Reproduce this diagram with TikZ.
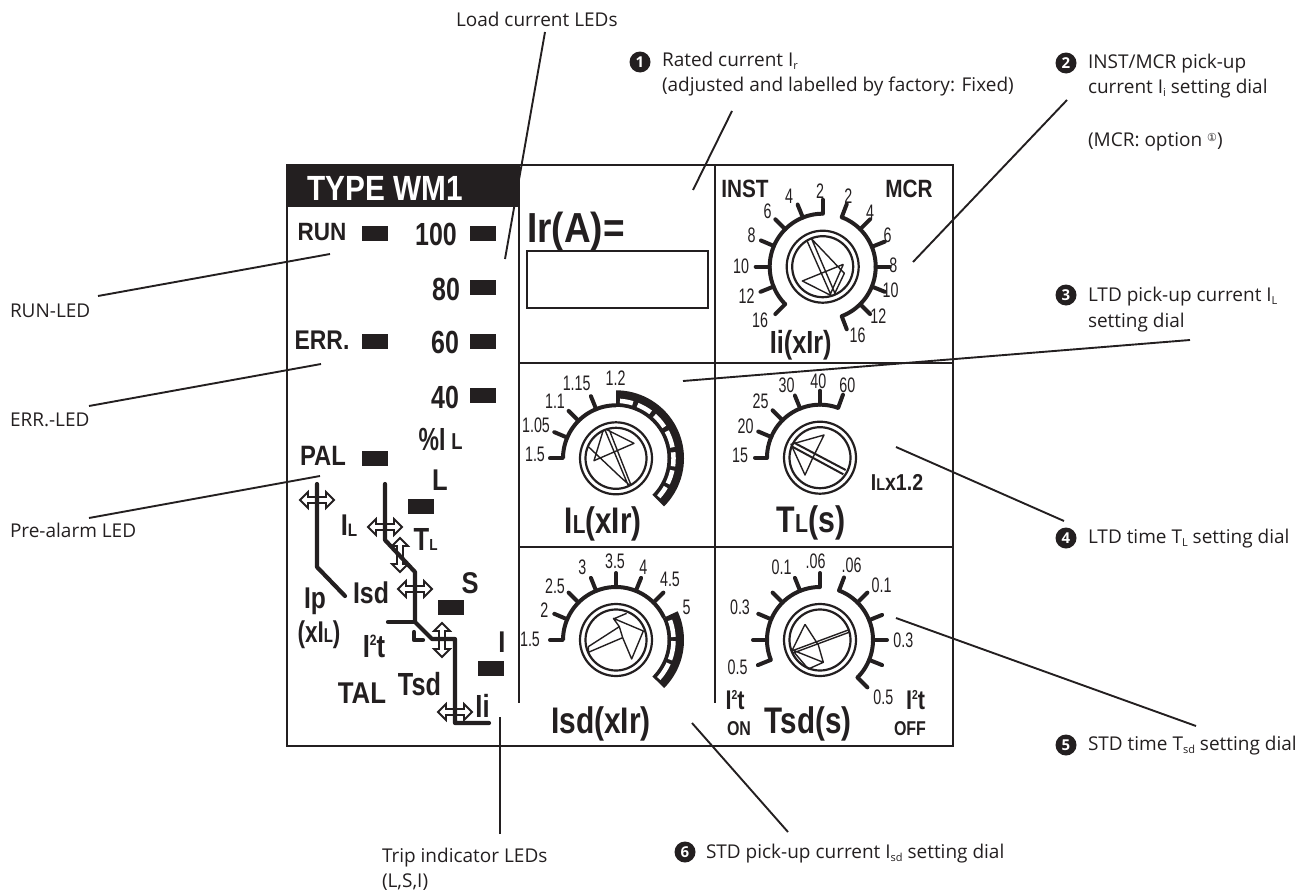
\documentclass[tikz,border=0pt]{standalone}
\usepackage{fontspec}
\setmainfont{Open Sans}
\newfontfamily\arl{Liberation Sans}
\newfontfamily\djv{DejaVu Sans}
\definecolor{ink}{HTML}{231F20}
\tikzset{
  pn/.style={anchor=base,inner sep=0pt,outer sep=0pt,text=ink},
  num/.style={anchor=center,inner sep=0pt,outer sep=0pt,text=ink,font=\arl\fontsize{21}{21}\selectfont},
  ann/.style={anchor=base west,inner sep=0pt,outer sep=0pt,text=ink,font=\fontsize{19}{19}\selectfont},
  bullet/.style={circle,fill=ink,text=white,inner sep=0pt,minimum size=21pt,font=\fontsize{15}{15}\selectfont\bfseries},
  leader/.style={draw=ink,line width=1.9pt},
  panelline/.style={draw=ink,line width=2pt},
  ledbox/.style={fill=ink,draw=none,inner sep=0pt,minimum width=26pt,minimum height=15pt},
  traceline/.style={draw=ink,line width=4.2pt,line cap=round,line join=round},
  dialarc/.style={draw=ink,line width=4pt,line join=round},
  dialtick/.style={draw=ink,line width=4pt,line cap=round},
  knobring/.style={draw=ink,line width=2.2pt},
  knobline/.style={draw=ink,line width=1.4pt,line join=round},
  dblarrow/.style={draw=ink,line width=1.8pt,line join=miter}
}
\newcommand\bl[6]{\node[pn] (#1) at (#2,#3) {\scalebox{#5}[1]{\arl\bfseries\fontsize{#4}{#4}\selectfont #6}};}
\newcommand\sm[2]{{\fontsize{#1}{#1}\selectfont #2}}
\newcommand\subt[1]{\raisebox{-3pt}{\fontsize{11}{11}\selectfont #1}}
\newcommand\darc[6]{\draw[#6] plot[variable=\t,domain=#4:#5,samples=50,smooth] ({#1+#3*cos(\t)},{#2-#3*sin(\t)});}
\newcommand\dticks[3]{\foreach \a in {#3} \draw[dialtick] ({#1+53*cos(\a)},{#2-53*sin(\a)}) -- ({#1+67*cos(\a)},{#2-67*sin(\a)});}
\newcommand\knob[2]{\draw[knobring] (#1,#2) circle[radius=36pt]; \draw[knobring] (#1,#2) circle[radius=30.5pt];}
\newcommand\darrow[3]{\draw[dblarrow,shift={(#1,#2)},rotate=#3] (-17,0)--(-9,-8)--(-9,-3)--(9,-3)--(9,-8)--(17,0)--(9,8)--(9,3)--(-9,3)--(-9,8)--cycle;}
\begin{document}
\begin{tikzpicture}[x=1pt,y=-1pt]
\useasboundingbox (0,0) rectangle (1311,894);
% ---------- panel
\fill[ink] (287,165) rectangle (520,207);
\draw[panelline] (287,165) rectangle (953,746);
\draw[panelline] (519,207) -- (519,703);
\draw[panelline] (715,165) -- (715,703);
\draw[panelline] (519,363) -- (953,363);
\draw[panelline] (519,547) -- (953,547);
\node[pn,text=white] (title) at (385,200) {\scalebox{.85}[1]{\arl\bfseries\fontsize{35}{35}\selectfont TYPE WM1}};
% LEDs
\foreach \n/\x/\y in {run/375/233.5,errl/375/341.5,pal/375/458.5,p100/483/233.5,p80/483/287.5,p60/483/341.5,p40/483/395.5,ll/421/506.5,ls/451/607.5,li/491/668.5}
  \node[ledbox] (led\n) at (\x,\y) {};
\bl{trun}{322}{240}{25}{.9}{RUN}
\bl{t100}{436}{245}{32}{.78}{100}
\bl{t80}{446}{300}{32}{.78}{80}
\bl{t60}{445}{353}{32}{.78}{60}
\bl{t40}{445}{408}{32}{.78}{40}
\bl{terr}{322}{349}{27}{.85}{ERR.}
\bl{tpal}{323}{465}{28}{.85}{PAL}
\bl{tpi}{432}{450}{32}{.72}{\%I}
\bl{tpl}{457}{449}{23}{.8}{L}
\bl{tl}{440}{490}{30}{.85}{L}
\bl{til}{344.5}{535}{30}{.85}{I}
\bl{till}{352.5}{536}{18}{.85}{L}
\bl{ttl}{421.5}{550}{32}{.8}{T}
\bl{ttll}{433.5}{550}{16}{.85}{L}
\bl{ts}{470}{593}{30}{.85}{S}
\bl{tisd}{371}{603}{30}{.83}{Isd}
\bl{tip}{315}{608}{30}{.82}{Ip}
\bl{txi}{319}{642}{30}{.75}{(xI\sm{20}{L})}
\bl{tit}{374}{657}{32}{.8}{I\raisebox{12pt}{\sm{15}{2}}t}
\bl{ttal}{362}{703}{30}{.86}{TAL}
\bl{ttsd}{419.5}{695}{32}{.79}{Tsd}
\bl{tbi}{502}{652}{30}{.85}{I}
\bl{tii}{482.5}{717}{32}{.8}{Ii}
% curves with double arrows
\darrow{317}{500}{0}
\darrow{385}{527}{0}
\darrow{400}{555}{90}
\darrow{415}{589}{0}
\darrow{442}{640}{90}
\darrow{455}{712}{0}
\coordinate (ca1) at (317,484); \coordinate (ca2) at (317,567); \coordinate (ca3) at (345,596);
\draw[traceline] (ca1) -- (ca2) -- (ca3);
\coordinate (cb1) at (385,484); \coordinate (cb2) at (385,540); \coordinate (cb3) at (415,572); \coordinate (cb4) at (415,622); \coordinate (cb5) at (432,639); \coordinate (cb6) at (455,639); \coordinate (cb7) at (455,723); \coordinate (cb8) at (489,723); \coordinate (cb9) at (388,622);
\draw[traceline] (cb1) -- (cb2) -- (cb3) -- (cb4) -- (cb5) -- (cb6) -- (cb7) -- (cb8);
\draw[traceline] (cb9) -- (cb4);
\coordinate (cc1) at (414,632); \coordinate (cc2) at (414,640); \coordinate (cc3) at (423,640);
\draw[traceline] (cc1) -- (cc2) -- (cc3);
% Ir box
\bl{tira}{576}{242}{42}{.88}{Ir(A)=}
\node[draw=ink,line width=1.8pt,minimum width=181pt,minimum height=57pt,inner sep=0pt] (irbox) at (617.5,279.5) {};
% ---------- Dial 1
\darc{822.7}{266.7}{53}{90}{225}{dialarc}
\darc{822.7}{266.7}{53}{-69}{69}{dialarc}
\dticks{822.7}{266.7}{112,135,157,180,202,225,69,45,22,0,-22,-45,-69,90}
\knob{822.7}{266.7}
\begin{scope}[shift={(715,165)},x=.3333pt,y=-.3333pt]
\draw[knobline] (275,225)--(350,395) (290,222)--(362,390) (290,222)--(388,325)--(358,388) (385,298)--(262,348)--(345,390)--(385,298);
\foreach \i/\x/\y/\t in {a/315/78/2,b/222/95/4,c/158/140/6,d/110/210/8,e/78/303/10,f/95/393/12,g/135/465/16,h/400/93/2,i/465/142/4,j/518/212/6,k/535/302/8,l/527/377/10,m/490/455/12,n/428/510/16}
  \node[num] (da\i) at (\x,\y) {\scalebox{.68}[1]{\t}};
\end{scope}
\bl{tinst}{745}{197}{25}{.83}{INST}
\bl{tmcr}{909}{197}{25}{.83}{MCR}
\bl{tii2}{800.7}{353}{32}{.79}{Ii(xIr)}
% ---------- Dial 2 (IL)
\darc{616}{458.3}{53}{90}{180}{dialarc}
\dticks{616}{458.3}{157,135,112}
\draw[dialtick] (550,458.3) -- (562.5,458.3);
\fill[ink] plot[variable=\t,domain=90:-45,samples=40,smooth] ({616+68*cos(\t)},{458.3-68*sin(\t)}) -- plot[variable=\t,domain=-45:90,samples=40,smooth] ({616+51.5*cos(\t)},{458.3-51.5*sin(\t)}) -- cycle;
\foreach \s/\e in {86/73,68/53,48/33,28/11,6/-8,-12/-26,-30/-42}
  \draw[white,line width=4.5pt] plot[variable=\t,domain=\s:\e,samples=12,smooth] ({616+57.5*cos(\t)},{458.3-57.5*sin(\t)});
\knob{616}{458.3}
\begin{scope}[shift={(520,365)},x=.3333pt,y=-.3333pt]
\draw[knobline] (262,195)--(342,235)--(222,287)--(250,195) (205,245)--(300,335)--(328,360) (255,195)--(325,362) (268,195)--(332,358);
\foreach \i/\x/\y/\t in {a/45/268/1.5,b/48/180/1.05,c/105/110/1.1,d/170/55/1.15,e/287/38/1.2}
  \node[num] (db\i) at (\x,\y) {\scalebox{.68}[1]{\t}};
\end{scope}
\bl{tilx}{603}{533}{37}{.8}{I\sm{26}{L}(xIr)}
% ---------- Dial 3 (TL)
\darc{820}{457.7}{53}{70}{180}{dialarc}
\dticks{820}{457.7}{157,135,112,90,70}
\draw[dialtick] (755,457.7) -- (767,457.7);
\knob{820}{457.7}
\begin{scope}[shift={(715,365)},x=.3333pt,y=-.3333pt]
\draw[knobline] (228,238)--(327,210)--(295,275)--(270,330)--cycle;
\draw[draw=ink,line width=2pt] (235,232)--(392,315) (228,243)--(385,328);
\foreach \i/\x/\y/\t in {a/75/270/15,b/92/183/20,c/137/108/25,d/215/60/30,e/310/48/40,f/397/60/60}
  \node[num] (dc\i) at (\x,\y) {\scalebox{.68}[1]{\t}};
\end{scope}
\bl{ttlx}{811}{532}{37}{.82}{T\sm{26}{L}(s)}
\bl{tilf}{897}{490}{23}{.85}{I\sm{17}{L}x1.2}
% ---------- Dial 4 (Isd)
\darc{616}{640}{53}{25}{180}{dialarc}
\dticks{616}{640}{157,135,112,90,68,45}
\draw[dialtick] (550,640) -- (562.5,640);
\fill[ink] plot[variable=\t,domain=25:-45,samples=30,smooth] ({616+68*cos(\t)},{640-68*sin(\t)}) -- plot[variable=\t,domain=-45:25,samples=30,smooth] ({616+51.5*cos(\t)},{640-51.5*sin(\t)}) -- cycle;
\foreach \s/\e in {20/3,-1/-20,-24/-42}
  \draw[white,line width=4.5pt] plot[variable=\t,domain=\s:\e,samples=12,smooth] ({616+57.5*cos(\t)},{640-57.5*sin(\t)});
\knob{616}{640}
\begin{scope}[shift={(520,545)},x=.3333pt,y=-.3333pt]
\draw[knobline] (205,305)--(298,245)--(280,220)--(370,258)--(335,342)--(308,278)--(205,322) (320,205)--(280,222) (298,245)--(308,278) (205,305)--(205,322);
\foreach \i/\x/\y/\t in {a/30/283/1.5,b/73/197/2,c/105/125/2.5,d/187/68/3,e/285/50/3.5,f/370/68/4,g/450/103/4.5,h/500/188/5}
  \node[num] (dd\i) at (\x,\y) {\scalebox{.68}[1]{\t}};
\end{scope}
\bl{tisdx}{601}{733}{37}{.81}{Isd(xIr)}
% ---------- Dial 5 (Tsd)
\darc{820}{640}{53}{90}{202}{dialarc}
\darc{820}{640}{53}{-45}{69}{dialarc}
\dticks{820}{640}{90,112,135,157,180,202,69,45,22,0,-22,-45}
\knob{820}{640}
\begin{scope}[shift={(715,545)},x=.3333pt,y=-.3333pt]
\draw[knobline] (270,238)--(232,315)--(325,352)--(310,300)--(270,238) (325,352)--(280,372)--(240,325) (230,318)--(400,255) (232,325)--(402,262);
\foreach \i/\x/\y/\t in {a/200/68/0.1,b/302/50/.06,c/410/62/.06,d/500/120/0.1,e/75/187/0.3,f/565/285/0.3,g/68/367/0.5,h/505/457/0.5}
  \node[num] (de\i) at (\x,\y) {\scalebox{.68}[1]{\t}};
\end{scope}
\bl{titon}{735}{709}{27}{.8}{I\raisebox{10pt}{\sm{13}{2}}t}
\bl{tito}{915.5}{709}{27}{.8}{I\raisebox{10pt}{\sm{13}{2}}t}
\bl{ton}{739}{735}{20}{.8}{ON}
\bl{toff}{910}{735}{20}{.8}{OFF}
\bl{ttsdx}{808}{733}{37}{.8}{Tsd(s)}
% ---------- annotations
\node[ann] (aload) at (456,26) {Load current LEDs};
\node[bullet] (b1) at (640,62) {1};
\node[ann] (arated) at (662,66) {Rated current I\subt{r}};
\node[ann] (arated2) at (662,91) {(adjusted and labelled by factory: Fixed)};
\node[bullet] (b2) at (1066,63) {2};
\node[ann] (ainst) at (1088,68) {INST/MCR pick-up};
\node[ann] (ainst2) at (1088,93) {current I\subt{i} setting dial};
\node[ann] (ainst3) at (1088,146) {(MCR: option \raisebox{5pt}{\djv\fontsize{11}{11}\selectfont ①})};
\node[bullet] (b3) at (1066,295) {3};
\node[ann] (altd) at (1088,301) {LTD pick-up current I\subt{L}};
\node[ann] (altd2) at (1088,327) {setting dial};
\node[bullet] (b4) at (1066,538) {4};
\node[ann] (altt) at (1088,543) {LTD time T\subt{L} setting dial};
\node[bullet] (b5) at (1066,745) {5};
\node[ann] (astd) at (1088,750) {STD time T\subt{sd} setting dial};
\node[bullet] (b6) at (685,852) {6};
\node[ann] (astp) at (706,858) {STD pick-up current I\subt{sd} setting dial};
\node[ann] (atrip) at (382,862) {Trip indicator LEDs};
\node[ann] (atrip2) at (382,887) {(L,S,I)};
\node[ann] (arun) at (10,317) {RUN-LED};
\node[ann] (aerr) at (10,426) {ERR.-LED};
\node[ann] (apre) at (10,537) {Pre-alarm LED};
% leaders
\foreach \n/\ax/\ay/\bx/\by in {load/545/32/505/259,rated/732/111/693/190,inst/1067/100/913/262,run/98/296/330/254,err/89/406/321/364,pre/89/518/320/476,ltdp/1190/340/683/381,ltdt/1064/521/896/447,stdt/1196/726/896/618,stdp/788/832/692/723,trip/500/834/500/717}{
  \coordinate (l\n a) at (\ax,\ay);
  \coordinate (l\n b) at (\bx,\by);
  \draw[leader] (l\n a) -- (l\n b);
}
\end{tikzpicture}
\end{document}
